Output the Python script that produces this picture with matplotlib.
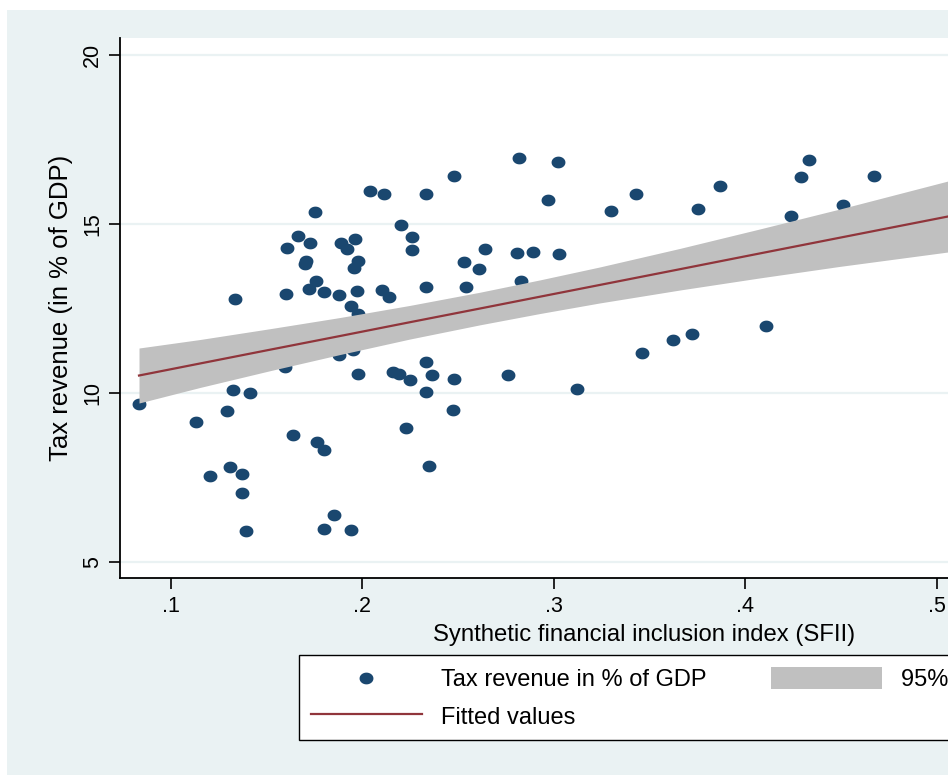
import numpy as np
import matplotlib.pyplot as plt
from matplotlib.patches import Rectangle

plt.rcParams['font.family'] = ['Liberation Sans', 'DejaVu Sans']

# scatter: synthetic financial inclusion index vs tax revenue (% of GDP)
sfii = [0.0833, 0.1131, 0.1204, 0.1308, 0.1292, 0.1324, 0.1413, 0.1334, 0.1371, 0.1371,
        0.1392, 0.1601, 0.1606, 0.1663, 0.1726, 0.1705, 0.1700, 0.1752, 0.1757, 0.1721,
        0.1799, 0.1877, 0.1888, 0.1919, 0.1961, 0.1977, 0.1956, 0.1971, 0.1940, 0.1977,
        0.1595, 0.1877, 0.1950, 0.1977, 0.1637, 0.1762, 0.1799, 0.1851, 0.1799, 0.1940,
        0.2039, 0.2112, 0.2332, 0.2201, 0.2258, 0.2258, 0.2102, 0.2138, 0.2332, 0.2159,
        0.2191, 0.2248, 0.2332, 0.2363, 0.2332, 0.2227, 0.2347, 0.2478, 0.2817, 0.3021,
        0.2969, 0.2640, 0.2530, 0.2608, 0.2807, 0.2890, 0.3026, 0.2540, 0.2828, 0.2478,
        0.2760, 0.3120, 0.2473, 0.3298, 0.3428, 0.3621, 0.3460, 0.3721, 0.3752, 0.3867,
        0.4107, 0.4238, 0.4290, 0.4332, 0.4509, 0.4671]
tax = [9.67, 9.14, 7.54, 7.81, 9.46, 10.08, 9.99, 12.77, 7.60, 7.04,
       5.92, 12.92, 14.28, 14.64, 14.43, 13.90, 13.81, 15.34, 13.30, 13.07,
       12.98, 12.89, 14.43, 14.25, 14.55, 13.90, 13.69, 13.01, 12.57, 12.33,
       10.76, 11.12, 11.27, 10.56, 8.75, 8.55, 8.31, 6.39, 5.97, 5.94,
       15.97, 15.88, 15.88, 14.96, 14.61, 14.22, 13.04, 12.83, 13.13, 10.61,
       10.56, 10.38, 10.91, 10.53, 10.02, 8.96, 7.84, 16.41, 16.94, 16.82,
       15.70, 14.25, 13.87, 13.66, 14.13, 14.16, 14.10, 13.13, 13.30, 10.41,
       10.53, 10.11, 9.49, 15.37, 15.88, 11.56, 11.18, 11.74, 15.43, 16.11,
       11.97, 15.23, 16.38, 16.88, 15.55, 16.41]

# fitted line and 95% CI band
fit_x = [0.0833, 0.1151, 0.1517, 0.1883, 0.2248, 0.2614, 0.2927, 0.3240, 0.3658,
         0.4076, 0.4493, 0.5057, 0.5150]
fit_y = [10.511, 10.866, 11.274, 11.679, 12.087, 12.492, 12.841, 13.189, 13.654,
         14.121, 14.585, 15.211, 15.31]
ci_low = [9.698, 10.157, 10.653, 11.132, 11.590, 12.010, 12.344, 12.657, 13.039,
          13.397, 13.737, 14.162, 14.22]
ci_high = [11.324, 11.575, 11.895, 12.226, 12.584, 12.974, 13.338, 13.721, 14.269,
           14.845, 15.433, 16.260, 16.40]

navy = '#1A476F'
maroon = '#90353B'
band_col = '#C0C0C0'
bg = '#EAF2F3'

fig = plt.figure(figsize=(9.48, 7.78), dpi=100, facecolor='white')
fig.patches.append(Rectangle((7 / 948, 3 / 778), 1.0, 765 / 778, transform=fig.transFigure,
                             facecolor=bg, edgecolor='none', zorder=-10))

ax = fig.add_axes([120 / 948, 200.3 / 778, 1048 / 948, 539.4 / 778])
ax.set_facecolor('white')

# dots are a bit wider than tall in the original
t = np.linspace(0, 2 * np.pi, 40)
dot = np.column_stack([1.18 * np.cos(t), np.sin(t)])

ax.scatter(sfii, tax, s=100, marker=dot, color=navy, linewidths=0, zorder=2,
           label='Tax revenue in % of GDP')
band = ax.fill_between(fit_x, ci_low, ci_high, color=band_col, linewidth=0, zorder=3,
                       label='95% CI')
line, = ax.plot(fit_x, fit_y, color=maroon, lw=1.6, zorder=4, label='Fitted values')

ax.set_xlim(0.07337, 0.6207)
ax.set_ylim(4.534, 20.48)
ax.set_xticks([0.1, 0.2, 0.3, 0.4, 0.5, 0.6])
ax.set_xticklabels(['.1', '.2', '.3', '.4', '.5', '.6'])
ax.set_yticks([5, 10, 15, 20])
ax.set_yticklabels(['5', '10', '15', '20'])
ax.grid(axis='y', color=bg, lw=1.6, zorder=0)
ax.set_axisbelow(True)

for s in ['top', 'right']:
    ax.spines[s].set_visible(False)
for s in ['left', 'bottom']:
    ax.spines[s].set_linewidth(1.3)
ax.tick_params(axis='both', length=8, width=1.2, labelsize=15.5)
ax.tick_params(axis='y', pad=4)
ax.tick_params(axis='x', pad=5)
for lab in ax.get_yticklabels():
    lab.set_rotation(90)
    lab.set_va('center')

ax.set_xlabel('Synthetic financial inclusion index (SFII)', fontsize=17.2, labelpad=5)
ax.set_ylabel('Tax revenue (in % of GDP)', fontsize=18.5, labelpad=7)

handles = [ax.collections[0], line, band]
labels = ['Tax revenue in % of GDP', 'Fitted values', '95% CI']
leg = fig.legend(handles, labels, ncol=2, loc='upper left',
                 bbox_to_anchor=(299 / 948, 1 - 655 / 778), bbox_transform=fig.transFigure,
                 borderaxespad=0, fancybox=False, framealpha=1, edgecolor='black',
                 fontsize=17, handlelength=4.7, handleheight=1.1, handletextpad=0.8,
                 columnspacing=2.75, borderpad=0.5, labelspacing=0.55, scatterpoints=1)
leg.get_frame().set_linewidth(1.0)

fig.savefig('out.png', dpi=100)
